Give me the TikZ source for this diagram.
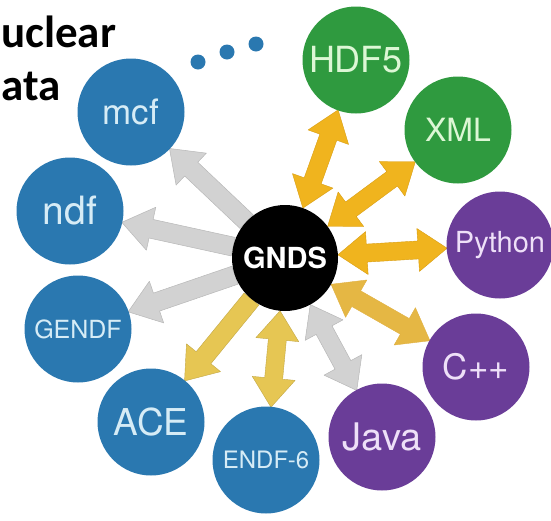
\documentclass[tikz,border=0pt]{standalone}
\usepackage{fontspec}
\setmainfont{TeX Gyre Heros}
\newfontfamily\titlefont{Carlito}
\usetikzlibrary{calc,backgrounds}
\definecolor{cblue}{HTML}{2A78B0}
\definecolor{cgreen}{HTML}{2F9A3F}
\definecolor{cpurple}{HTML}{6A3D98}
\definecolor{tblue}{HTML}{D6ECF6}
\definecolor{tgreen}{HTML}{DDF7D5}
\definecolor{tpurple}{HTML}{EEE0F8}
\definecolor{gold}{HTML}{F0B41E}
\definecolor{goldedge}{HTML}{D99E14}
\definecolor{khaki}{HTML}{E6C653}
\definecolor{softgold}{HTML}{E5B744}
\definecolor{lgrey}{HTML}{D2D2D2}
\definecolor{greyedge}{HTML}{B8B8B8}
\newcommand\fs[1]{\fontsize{#1}{#1}\selectfont}
\newcommand\onehead[3]{%
  \coordinate (s) at ($(#2.center)!53pt!(#3.center)$);
  \coordinate (e) at ($(#3.center)!53pt!(#2.center)$);
  \coordinate (n) at ($(e)!30pt!(s)$);
  \filldraw[#1] ($(s)!9.5pt!90:(e)$) -- ($(n)!9.5pt!-90:(s)$) -- ($(n)!22pt!-90:(s)$)
    -- (e) -- ($(n)!22pt!90:(s)$) -- ($(n)!9.5pt!90:(s)$) -- ($(s)!9.5pt!-90:(e)$) -- cycle;
}
\newcommand\twohead[3]{%
  \coordinate (s) at ($(#2.center)!53pt!(#3.center)$);
  \coordinate (e) at ($(#3.center)!53pt!(#2.center)$);
  \coordinate (n) at ($(e)!29pt!(s)$);
  \coordinate (m) at ($(s)!29pt!(e)$);
  \filldraw[#1] (s) -- ($(m)!21.5pt!90:(e)$) -- ($(m)!9pt!90:(e)$) -- ($(n)!9pt!-90:(s)$)
    -- ($(n)!21.5pt!-90:(s)$) -- (e) -- ($(n)!21.5pt!90:(s)$) -- ($(n)!9pt!90:(s)$)
    -- ($(m)!9pt!-90:(e)$) -- ($(m)!21.5pt!-90:(e)$) -- cycle;
}
\tikzset{
  ball/.style={circle, minimum size=107pt, inner sep=0pt},
  bluec/.style={ball, fill=cblue, text=tblue},
  greenc/.style={ball, fill=cgreen, text=tgreen},
  purplec/.style={ball, fill=cpurple, text=tpurple},
  dot/.style={circle, fill=cblue, minimum size=15pt, inner sep=0pt},
  greyarr/.style={fill=lgrey, draw=greyedge, line width=0.5pt, line join=round},
  goldarr/.style={fill=gold, draw=goldedge, line width=0.4pt, line join=round},
  softarr/.style={fill=softgold, draw=goldedge!80, line width=0.4pt, line join=round},
  khakiarr/.style={fill=khaki, draw=khaki!85!black, line width=0.4pt, line join=round},
  titletext/.style={anchor=base west, font=\titlefont\bfseries\fs{45}, text=black, inner sep=0pt},
}
\begin{document}
\begin{tikzpicture}[x=1pt, y=-1pt]
\useasboundingbox (0,0) rectangle (551,520);
\clip (0,0) rectangle (551,520);
\node[titletext] (t1) at (1,47) {uclear};
\node[titletext] (t2) at (1,100) {ata};
\node[dot] (d1) at (198,62) {};
\node[dot] (d2) at (227,52) {};
\node[dot] (d3) at (256,44) {};
\node[ball, fill=black, text=white, minimum size=106pt, font=\bfseries\fs{29}] (gnds) at (285,258) {GNDS};
\node[bluec, font=\fs{35}] (mcf) at (131,112) {mcf};
\node[bluec, font=\fs{39}] (ndf) at (70,211) {ndf};
\node[bluec, font=\fs{25}] (gendf) at (78,329) {GENDF};
\node[bluec, font=\fs{37}] (ace) at (151,422) {ACE};
\node[bluec, font=\fs{24}] (endf) at (266,460) {ENDF-6};
\node[purplec, font=\fs{38}] (java) at (382,437) {Java};
\node[purplec, font=\fs{35}] (cpp) at (476,367) {C++};
\node[purplec, font=\fs{29}] (python) at (500,245) {Python};
\node[greenc, font=\fs{32}] (xml) at (458,130) {XML};
\node[greenc, font=\fs{36}] (hdf) at (356,60) {HDF5};
\begin{scope}[on background layer]
  \onehead{greyarr}{gnds}{mcf}
  \onehead{greyarr}{gnds}{ndf}
  \onehead{greyarr}{gnds}{gendf}
  \onehead{khakiarr}{gnds}{ace}
  \twohead{khakiarr}{gnds}{endf}
  \twohead{greyarr}{gnds}{java}
  \twohead{softarr}{gnds}{cpp}
  \twohead{goldarr}{gnds}{python}
  \twohead{goldarr}{gnds}{xml}
  \twohead{goldarr}{gnds}{hdf}
\end{scope}
\end{tikzpicture}
\end{document}
